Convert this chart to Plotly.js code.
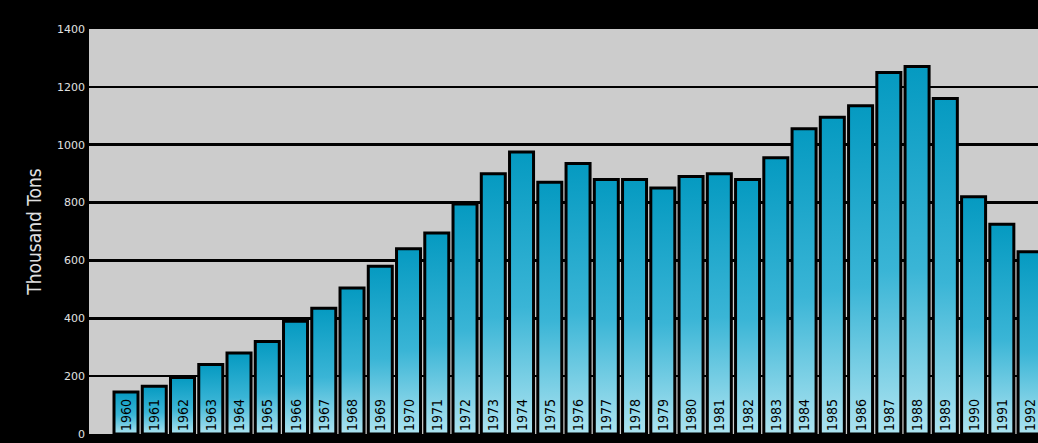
<!DOCTYPE html>
<html>
<head>
<meta charset="utf-8">
<script src="https://cdn.plot.ly/plotly-3.0.1.min.js"></script>
<style>
  html, body { margin: 0; padding: 0; background: #000; }
  #chart { width: 1038px; height: 443px; }
</style>
</head>
<body>
<div id="chart"></div>
<script>
const years = [1960,1961,1962,1963,1964,1965,1966,1967,1968,1969,1970,1971,1972,1973,1974,1975,1976,1977,1978,1979,1980,1981,1982,1983,1984,1985,1986,1987,1988,1989,1990,1991,1992];
const tons = [145,165,195,240,280,320,390,435,505,580,640,695,795,900,975,870,935,880,880,850,890,900,880,955,1055,1095,1135,1250,1270,1160,820,725,630];
const yearLabels = years.map(String);
const yTicks = [0,200,400,600,800,1000,1200,1400];

const trace = {
  type: 'bar',
  x: years,
  y: tons,
  width: 0.85,
  text: yearLabels,
  textposition: 'inside',
  insidetextanchor: 'start',
  textangle: -90,
  constraintext: 'none',
  insidetextfont: { family: 'DejaVu Sans Condensed, Liberation Sans Narrow, sans-serif', size: 14, color: '#000' },
  marker: { color: '#2fb3d3', line: { color: '#000', width: 3 } },
  hoverinfo: 'x+y'
};

const layout = {
  width: 1038,
  height: 443,
  paper_bgcolor: '#000',
  plot_bgcolor: '#cccccc',
  margin: { l: 89, r: 0, t: 29, b: 9 },
  showlegend: false,
  bargap: 0.15,
  xaxis: {
    range: [1958.69, 1992.28],
    showticklabels: false,
    showgrid: false,
    zeroline: false,
    showline: false,
    ticks: ''
  },
  yaxis: {
    range: [0, 1400],
    tickvals: yTicks,
    ticktext: yTicks.map(String),
    showgrid: true,
    gridcolor: '#000',
    gridwidth: 2.5,
    zeroline: false,
    showline: false,
    ticks: '',
    ticklabelstandoff: 3,
    tickfont: { family: 'DejaVu Sans, sans-serif', size: 11, color: '#e0e0e0' },
    title: { text: 'Thousand Tons', font: { family: 'DejaVu Sans Condensed, Liberation Sans Narrow, sans-serif', size: 19, color: '#e0e0e0' }, standoff: 10 }
  }
};

Plotly.newPlot('chart', [trace], layout, { displayModeBar: false, staticPlot: true }).then(function (gd) {
  const svg = gd.querySelector('.main-svg');
  const ns = 'http://www.w3.org/2000/svg';
  let defs = svg.querySelector('defs');
  if (!defs) { defs = document.createElementNS(ns, 'defs'); svg.insertBefore(defs, svg.firstChild); }
  const grad = document.createElementNS(ns, 'linearGradient');
  grad.setAttribute('id', 'barGrad');
  grad.setAttribute('x1', '0'); grad.setAttribute('y1', '0');
  grad.setAttribute('x2', '0'); grad.setAttribute('y2', '1');
  [['0', '#059ac1'], ['0.55', '#3ab5d6'], ['1', '#ace3f0']].forEach(function (s) {
    const st = document.createElementNS(ns, 'stop');
    st.setAttribute('offset', s[0]);
    st.setAttribute('stop-color', s[1]);
    grad.appendChild(st);
  });
  defs.appendChild(grad);
  gd.querySelectorAll('.bars .point path').forEach(function (p) {
    p.style.fill = 'url(#barGrad)';
  });
});
</script>
</body>
</html>
